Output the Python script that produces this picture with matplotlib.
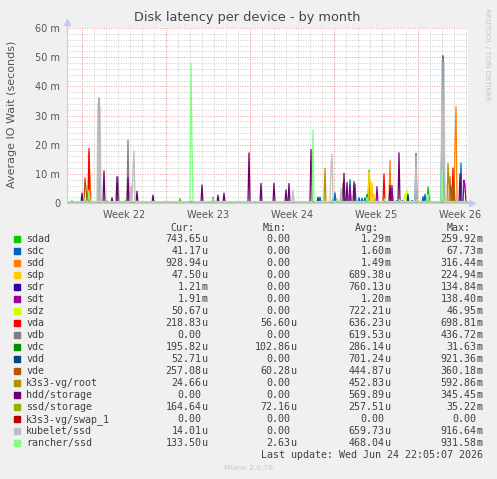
import numpy as np
import matplotlib
matplotlib.use("Agg")
import matplotlib.pyplot as plt
from matplotlib.patches import Rectangle

# 2-hour samples, 401 of them across the month graph
n_samples = 401
week_labels = ["Week 22", "Week 23", "Week 24", "Week 25", "Week 26"]
first_week_day = 1.275  # monday of week 22, in days from left edge

names = ["sdad", "sdc", "sdd", "sdp", "sdr", "sdt", "sdz", "vda", "vdb",
         "vdc", "vdd", "vde", "k3s3-vg/root", "hdd/storage", "ssd/storage",
         "k3s3-vg/swap_1", "kubelet/ssd", "rancher/ssd"]
colors = ["#00CC00", "#0066B3", "#FF8000", "#FFCC00", "#330099", "#990099",
          "#CCFF00", "#FF0000", "#808080", "#008F00", "#00487D", "#B35A00",
          "#B38F00", "#6B006B", "#8FB300", "#B30000", "#BEBEBE", "#80FF80"]

cur = ["743.65u", "41.17u", "928.94u", "47.50u", "1.21m", "1.91m", "50.67u",
       "218.83u", "0.00", "195.82u", "52.71u", "257.08u", "24.66u", "0.00",
       "164.64u", "0.00", "14.01u", "133.50u"]
mins = ["0.00", "0.00", "0.00", "0.00", "0.00", "0.00", "0.00", "56.60u",
        "0.00", "102.86u", "0.00", "60.28u", "0.00", "0.00", "72.16u", "0.00",
        "0.00", "2.63u"]
avgs = ["1.29m", "1.60m", "1.49m", "689.38u", "760.13u", "1.20m", "722.21u",
        "636.23u", "619.53u", "286.14u", "701.24u", "444.87u", "452.83u",
        "569.89u", "257.51u", "0.00", "659.73u", "468.04u"]
maxs = ["259.92m", "67.73m", "316.44m", "224.94m", "134.84m", "138.40m",
        "46.95m", "698.81m", "436.72m", "31.63m", "921.36m", "360.18m",
        "592.86m", "345.45m", "35.22m", "0.00", "916.64m", "931.58m"]

# baseline level (ms) and peaks: sample index -> ms
base = [0.1, 0.3, 0.1, 0.0, 0.3, 0.0, 0.0, 0.1, 0.1,
        0.2, 0.1, 0.2, 0.1, 0.1, 0.3, 0.0, 0.1, 0.5]
peaks = [
    {302: 11.3, 361: 5.6, 362: 2.5},
    {253: 2, 266: 1.3, 268: 3.5, 270: 1.2, 274: 1.2, 278: 1.4, 283: 8,
     288: 6.5, 292: 1.8, 295: 1.6, 298: 1.8, 325: 5, 349: 17, 356: 2.2,
     358: 3, 394: 13.7},
    {22: 17.5, 23: 9, 323: 14.7, 388: 20, 389: 33},
    {302: 10.5, 303: 8, 305: 7, 307: 3},
    {330: 0.8, 336: 0.9, 345: 0.8},
    {283: 6, 310: 5.6, 325: 6, 397: 7.9, 398: 6},
    {337: 1, 338: 3.2, 339: 1.2, 340: 4.5, 341: 0.8},
    {22: 18.7, 317: 10, 386: 12},
    {32: 36, 51: 9, 61: 21.6, 146: 2, 276: 7},
    {300: 3},
    {251: 2, 341: 3, 375: 30, 376: 50.5},
    {18: 8.6, 19: 5, 21: 3, 383: 9, 385: 6, 387: 8},
    {258: 11.9, 381: 13.6, 382: 6},
    {15: 3.4, 37: 11, 45: 1.8, 50: 9, 61: 8.6, 70: 4, 86: 2.7, 135: 6.2,
     151: 2.7, 157: 3.4, 182: 17.2, 194: 6.7, 207: 6.8, 219: 4.5, 222: 6.7,
     244: 18.4, 277: 10.2, 280: 7, 287: 7.3, 323: 6, 332: 17.2, 393: 10},
    {113: 1.5},
    {},
    {31: 34, 33: 33, 64: 6, 66: 12, 67: 18, 146: 1.5, 226: 4.5, 264: 12,
     265: 16.8, 274: 5, 349: 16, 375: 49, 377: 48},
    {5: 1, 18: 1.5, 22: 4.5, 40: 1, 58: 1, 124: 48, 125: 20, 246: 25,
     270: 1.2, 300: 2, 318: 1.5, 332: 1.2, 350: 1, 361: 3, 375: 11.3},
]

W, H = 497, 479
fig = plt.figure(figsize=(W / 100, H / 100), dpi=100, facecolor="#F0F0F0")
left, top, right, bottom = 67, 28, 468, 203
ax = fig.add_axes([left / W, 1 - bottom / H, (right - left) / W, (bottom - top) / H])
ax.set_facecolor("white")

t = np.arange(n_samples) / 12.0
xmax = n_samples / 12.0
ax.set_xlim(0, xmax)
ax.set_ylim(0, 60)

# grid
for v in range(2, 60, 2):
    if v % 10:
        ax.axhline(v, color="#cccccc", lw=0.7, ls=(0, (1, 1.5)), zorder=0)
d = first_week_day
while d < xmax:
    ax.axvline(d, color="#cccccc", lw=0.7, ls=(0, (1, 1.5)), zorder=0)
    d += 1
for v in range(10, 61, 10):
    ax.axhline(v, color="#f09a9a", lw=0.7, ls=(0, (1, 1.5)), zorder=0)
d = first_week_day
while d < xmax:
    ax.axvline(d, color="#f09a9a", lw=0.7, ls=(0, (1, 1.5)), zorder=0)
    d += 7

for i in range(len(names)):
    y = np.full(n_samples, base[i])
    for k, v in peaks[i].items():
        y[k] = v
    ax.plot(t, y, color=colors[i], lw=0.9, zorder=2)

for s in ax.spines.values():
    s.set_visible(False)
ax.plot([0, 0], [0, 62], color="#c8c8f4", lw=0.8, clip_on=False, zorder=3)
ax.plot([0, xmax + 0.3], [0, 0], color="#c8c8f4", lw=0.8, clip_on=False, zorder=3)
ax.plot(0, 62, marker="^", ms=4, color="#c8c8f4", clip_on=False, zorder=3)
ax.plot(xmax + 0.3, 0, marker=">", ms=4, color="#c8c8f4", clip_on=False, zorder=3)

ax.set_yticks(range(0, 61, 10))
ax.set_yticklabels(["0"] + ["%d m" % v for v in range(10, 61, 10)])
ax.set_xticks([first_week_day + 3.5 + 7 * k for k in range(len(week_labels))])
ax.set_xticklabels(week_labels)
ax.tick_params(length=0, labelsize=7, labelcolor="#555555", pad=5)

fig.text(0.498, 1 - 17 / H, "Disk latency per device - by month", ha="center",
         va="center", fontsize=9.3, color="#444444")
fig.text(12 / W, 1 - 114 / H, "Average IO Wait (seconds)", rotation=90,
         ha="center", va="center", fontsize=8, color="#555555")
fig.text(487 / W, 1 - 54 / H, "RRDTOOL / TOBI OETIKER", rotation=270,
         ha="center", va="center", fontsize=5.2, color="#c4c4c4")

mono = dict(family="DejaVu Sans Mono", fontsize=7.2, color="#404040", va="center")
hy = 228.3
for label, xe in zip(["Cur:", "Min:", "Avg:", "Max:"], [194.5, 286.5, 378.5, 470.5]):
    fig.text(xe / W, 1 - hy / H, label, ha="right", **mono)

col_ends = [207.7, 296.7, 390.7, 482.7]
for i in range(len(names)):
    yy = 239.3 + 12 * i
    fig.add_artist(Rectangle((14 / W, 1 - (yy + 3) / H), 6 / W, 6 / H,
                             transform=fig.transFigure, color=colors[i]))
    fig.text(26.3 / W, 1 - yy / H, names[i], ha="left", **mono)
    for val, xe in zip([cur[i], mins[i], avgs[i], maxs[i]], col_ends):
        if val[-1] in "um":
            num, suf = val[:-1], val[-1]
        else:
            num, suf = val, ""
        fig.text((xe - 6) / W, 1 - yy / H, num, ha="right", **mono)
        if suf:
            fig.text((xe - 6) / W, 1 - yy / H, suf, ha="left", **mono)

fig.text(482.7 / W, 1 - 455.3 / H, "Last update: Wed Jun 24 22:05:07 2026",
         ha="right", **mono)
fig.text(248 / W, 1 - 467.7 / H, "Munin 2.0.76", ha="center", va="center",
         fontsize=5.4, color="#c8c8c8")

fig.savefig("out.png", dpi=100, facecolor=fig.get_facecolor())
